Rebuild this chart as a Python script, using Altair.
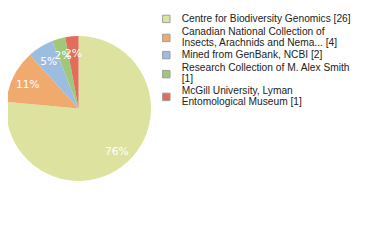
import altair as alt
import pandas as pd

categories = [
    "Centre for Biodiversity Genomics [26]",
    "Canadian National Collection of\nInsects, Arachnids and Nema... [4]",
    "Mined from GenBank, NCBI [2]",
    "Research Collection of M. Alex Smith\n[1]",
    "McGill University, Lyman\nEntomological Museum [1]",
]
counts = [26, 4, 2, 1, 1]
colors = ["#dde39e", "#f0aa6e", "#9dbde0", "#a0c878", "#e06e5a"]

df = pd.DataFrame({"cat": categories, "n": counts, "order": list(range(len(counts)))})

base = alt.Chart(df).transform_joinaggregate(total="sum(n)").transform_calculate(
    pct="floor(datum.n / datum.total * 100) + '%'"
).encode(
    theta=alt.Theta("n:Q", stack=True),
    order=alt.Order("order:Q"),
)

pie = base.mark_arc(outerRadius=78, strokeWidth=0).encode(
    color=alt.Color(
        "cat:N",
        scale=alt.Scale(domain=categories, range=colors),
        legend=alt.Legend(
            title=None,
            orient="none",
            legendX=165,
            legendY=-12,
            padding=0,
            labelExpr="split(datum.label, '\\n')",
            labelBaseline={"expr": "indexof(datum.label, '\\n') >= 0 ? 'line-bottom' : 'middle'"},
            labelFont="Liberation Sans",
            labelFontSize=11,
            labelColor="#222222",
            labelLimit=400,
            symbolType="square",
            symbolSize=64,
            symbolStrokeColor="#999999",
            symbolStrokeWidth=1,
            labelOffset=11,
            rowPadding=1.5,
        ),
    )
)

labels = base.mark_text(
    radius=61, color="white", font="DejaVu Sans", fontSize=11.5, dy=2
).encode(text="pct:N")

chart = (pie + labels).properties(
    width=152,
    height=180,
    padding={"left": 0, "top": 10, "right": 240, "bottom": 24},
    autosize=alt.AutoSizeParams(type="none"),
).configure_view(stroke=None).configure(style={"guide-label": {"lineHeight": 11.5}})

chart.save("out.html", embed_options={"renderer": "svg", "actions": False})
